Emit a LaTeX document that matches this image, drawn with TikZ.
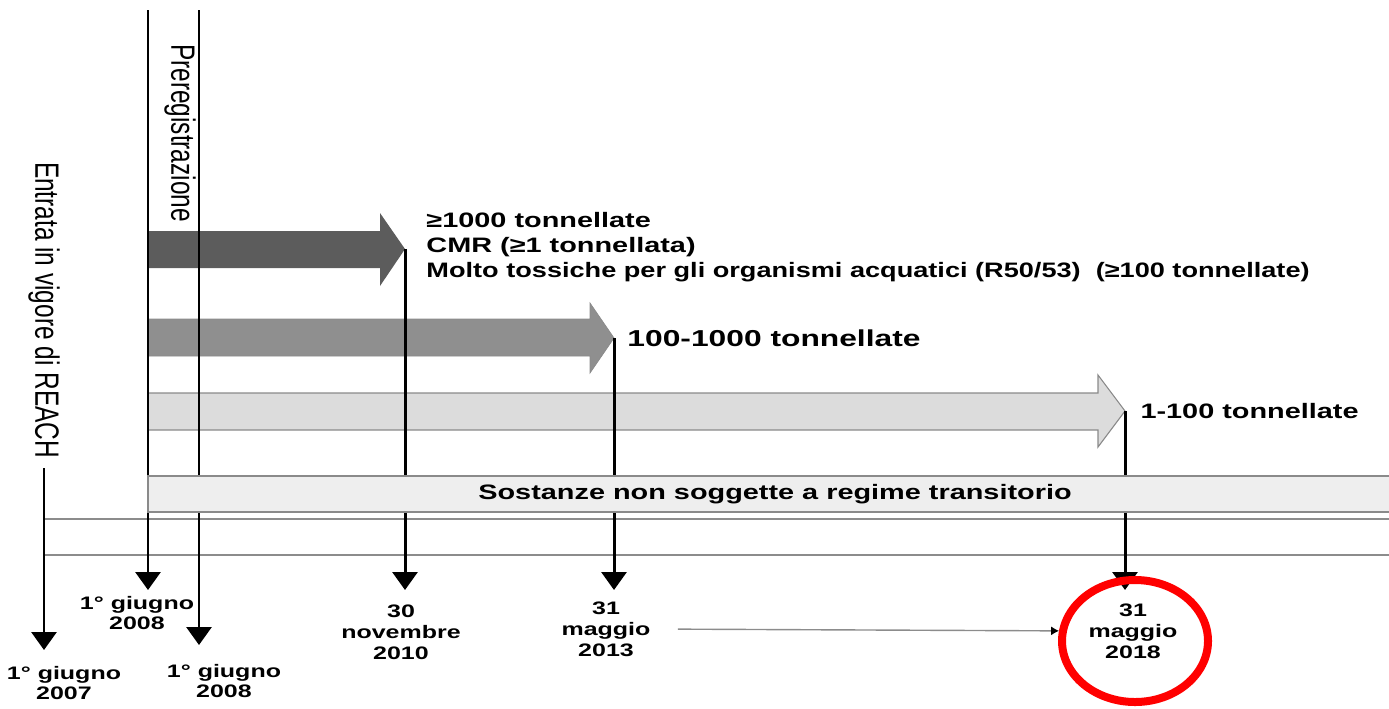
\documentclass[tikz,border=0pt]{standalone}
\usepackage{fontspec}
\setmainfont{Liberation Sans}
\usetikzlibrary{arrows.meta}
\definecolor{bardark}{HTML}{5C5C5C}
\definecolor{barmid}{HTML}{8F8F8F}
\definecolor{barlight}{HTML}{DCDCDC}
\definecolor{barline}{HTML}{8A8A8A}
\definecolor{boxfill}{HTML}{EEEEEE}
\definecolor{railgray}{HTML}{8C8C8C}
\tikzset{
  deadline/.style={line width=1.7pt, -{Triangle[width=0.5cm,length=0.36cm]}},
  rail/.style={line width=1.1pt, draw=railgray},
  datelabel/.style={font=\bfseries\fontsize{10.3}{11.9}\selectfont, align=center, xscale=1.38, inner sep=0pt},
  tierlabel/.style={font=\bfseries\fontsize{11.9}{14.2}\selectfont, align=left, xscale=1.38, inner sep=0pt, anchor=west},
  sidelabel/.style={font=\fontsize{13.9}{16}\selectfont, xscale=1.38, rotate=-90, inner sep=0pt}
}
\begin{document}
\begin{tikzpicture}
            \useasboundingbox (0.000000,0.000000) rectangle (27.780000,-14.160000);%
            
            % Drawing band arrow >=1000
            \fill [bardark] (2.960000,-4.620000) -- (7.600000,-4.620000) -- (7.600000,-4.260000) -- (8.100000,-4.980000) -- (7.600000,-5.720000) -- (7.600000,-5.360000) -- (2.960000,-5.360000) -- cycle;%
            \coordinate (tip1) at (8.100000,-4.980000);%
            
            % Drawing band arrow 100-1000
            \filldraw [fill=barmid, draw=barline, line width=0.4pt] (2.960000,-6.380000) -- (11.800000,-6.380000) -- (11.800000,-6.060000) -- (12.280000,-6.760000) -- (11.800000,-7.460000) -- (11.800000,-7.120000) -- (2.960000,-7.120000) -- cycle;%
            \coordinate (tip2) at (12.280000,-6.760000);%
            
            % Drawing band arrow 1-100
            \filldraw [fill=barlight, draw=barline, line width=0.6pt] (2.960000,-7.860000) -- (21.960000,-7.860000) -- (21.960000,-7.500000) -- (22.500000,-8.220000) -- (21.960000,-8.940000) -- (21.960000,-8.600000) -- (2.960000,-8.600000) -- cycle;%
            \coordinate (tip3) at (22.500000,-8.220000);%
            
            % Drawing rails
            \draw [rail] (0.880000,-10.380000) -- (27.780000,-10.380000);%
            \draw [rail] (0.880000,-11.100000) -- (27.780000,-11.100000);%
            
            % Marking side labels
            \node [sidelabel] (prereg) at (3.600000,-2.660000) {Preregistrazione};%
            \node [sidelabel] (reach) at (0.880000,-6.200000) {Entrata in vigore di REACH};%
            
            % Drawing deadlines
            \coordinate (foot) at (0.000000,-11.800000);%
            \draw [deadline] (2.960000,-0.200000) -- (2.960000,-11.800000);%
            \draw [deadline] (3.980000,-0.200000) -- (3.980000,-12.900000);%
            \draw [deadline, shorten <=0.2cm] (reach.east) -- (0.880000,-13.000000);%
            \draw [deadline] (tip1) -- (tip1 |- foot);%
            \draw [deadline] (tip2) -- (tip2 |- foot);%
            \draw [deadline] (tip3) -- (tip3 |- foot);%
            
            % Drawing band of non phase-in substances
            \filldraw [fill=boxfill, draw=barline, line width=0.8pt] (2.960000,-9.520000) rectangle (27.900000,-10.240000);%
            \node [datelabel, font=\bfseries\fontsize{11.9}{14}\selectfont] (sostanze) at (15.500000,-9.880000) {Sostanze non soggette a regime transitorio};%
            
            % Marking tier labels
            \node [tierlabel] (tier1) at (8.520000,-4.940000) {≥1000 tonnellate\\CMR (≥1 tonnellata)\\\scalebox{0.94}[1]{Molto tossiche per gli organismi acquatici (R50/53)\ \ (≥100 tonnellate)}};%
            \node [tierlabel, font=\bfseries\fontsize{13.1}{15}\selectfont] (tier2) at (12.540000,-6.760000) {100-1000 tonnellate};%
            \node [tierlabel] (tier3) at (22.800000,-8.220000) {1-100 tonnellate};%
            
            % Marking dates
            \node [datelabel] (d2007) at (1.280000,-13.660000) {1° giugno\\2007};%
            \node [datelabel] (d2008a) at (2.740000,-12.260000) {1° giugno\\2008};%
            \node [datelabel] (d2008b) at (4.480000,-13.620000) {1° giugno\\2008};%
            \node [datelabel] (d2010) at (8.020000,-12.640000) {30\\novembre\\2010};%
            \node [datelabel] (d2013) at (12.120000,-12.580000) {31\\maggio\\2013};%
            \node [datelabel] (d2018) at (22.660000,-12.620000) {31\\maggio\\2018};%
            
            % Drawing link 2013 to 2018
            \draw [railgray, line width=0.8pt, shorten <=0.54cm, shorten >=0.58cm, -{Latex[color=black,length=0.16cm,width=0.18cm]}] (d2013.east) -- (d2018.west);%
            
            % Marking 2018 by red ring
            \draw [red, line width=0.16cm] (22.700000,-12.820000) ellipse [x radius=1.46cm, y radius=1.22cm];%
\end{tikzpicture}
\end{document}
